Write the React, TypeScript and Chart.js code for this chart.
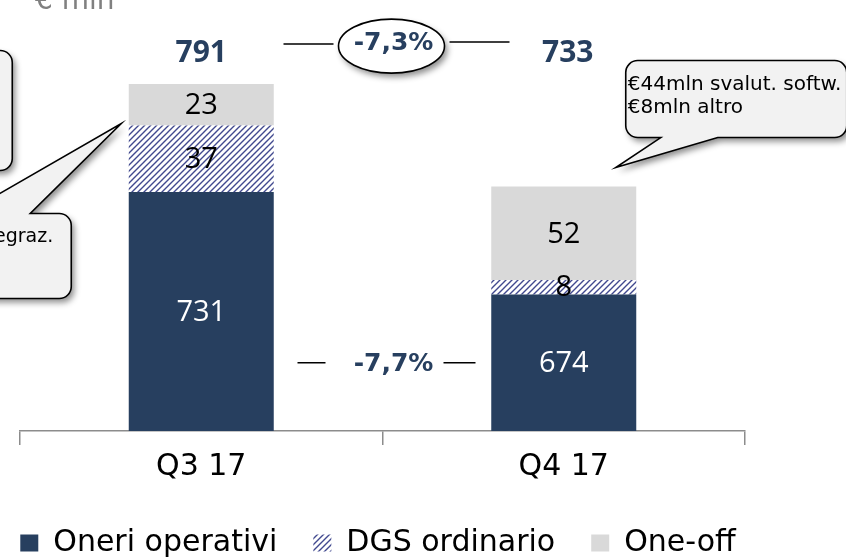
import React, { useEffect, useRef } from 'react';
import { Chart, registerables } from 'chart.js';

Chart.register(...registerables);

const categories = ['Q3 17', 'Q4 17'];
const oneriOperativi = [731, 674];
const dgsOrdinario = [37, 8];
const oneOff = [23, 52];
const totals = [791, 733];
const seriesNames = ['Oneri operativi', 'DGS ordinario', 'One-off'];
const totalChange = '-7,3%';
const opexChange = '-7,7%';
const unitLabel = '€ mln';
const calloutRight = ['€44mln svalut. softw.', '€8mln altro'];
const calloutLeft = ['€37mln oneri integraz.'];

const FONT = '"DejaVu Sans", sans-serif';
const NUMFONT = '"Open Sans", "DejaVu Sans", sans-serif';
const NAVY = '#273f5f';
const GRAY = '#d9d9d9';

function makeHatch(): CanvasPattern | string {
  const c = document.createElement('canvas');
  c.width = 6;
  c.height = 6;
  const g = c.getContext('2d');
  if (!g) return '#8088b8';
  g.fillStyle = '#ffffff';
  g.fillRect(0, 0, 6, 6);
  g.strokeStyle = '#41498f';
  g.lineWidth = 1.4;
  g.beginPath();
  g.moveTo(-1, 7); g.lineTo(7, -1);
  g.moveTo(-4, 4); g.lineTo(4, -4);
  g.moveTo(2, 10); g.lineTo(10, 2);
  g.stroke();
  const p = g.createPattern(c, 'repeat');
  return p || '#8088b8';
}

function calloutPath(ctx: CanvasRenderingContext2D, x: number, y: number, w: number, h: number, r: number,
  tail: null | { edge: 'top' | 'bottom'; b1: number; b2: number; tx: number; ty: number }) {
  ctx.beginPath();
  ctx.moveTo(x + r, y);
  if (tail && tail.edge === 'top') {
    ctx.lineTo(tail.b1, y);
    ctx.lineTo(tail.tx, tail.ty);
    ctx.lineTo(tail.b2, y);
  }
  ctx.lineTo(x + w - r, y);
  ctx.arcTo(x + w, y, x + w, y + r, r);
  ctx.lineTo(x + w, y + h - r);
  ctx.arcTo(x + w, y + h, x + w - r, y + h, r);
  if (tail && tail.edge === 'bottom') {
    ctx.lineTo(tail.b2, y + h);
    ctx.lineTo(tail.tx, tail.ty);
    ctx.lineTo(tail.b1, y + h);
  }
  ctx.lineTo(x + r, y + h);
  ctx.arcTo(x, y + h, x, y + h - r, r);
  ctx.lineTo(x, y + r);
  ctx.arcTo(x, y, x + r, y, r);
  ctx.closePath();
}

function drawShape(ctx: CanvasRenderingContext2D, fill: string) {
  ctx.save();
  ctx.shadowColor = 'rgba(0,0,0,0.45)';
  ctx.shadowBlur = 6;
  ctx.shadowOffsetX = 3;
  ctx.shadowOffsetY = 4;
  ctx.fillStyle = fill;
  ctx.fill();
  ctx.restore();
  ctx.save();
  ctx.lineWidth = 1.6;
  ctx.strokeStyle = '#000';
  ctx.stroke();
  ctx.restore();
}

const annotations = {
  id: 'annotations',
  afterDatasetsDraw(chart: any) {
    const ctx: CanvasRenderingContext2D = chart.ctx;
    const xS = chart.scales.x;
    const yS = chart.scales.y;
    const area = chart.chartArea;
    const series = [oneriOperativi, dgsOrdinario, oneOff];
    const totalsY = yS.getPixelForValue(Math.max(...totals)) - 31;

    ctx.save();
    ctx.textAlign = 'center';
    ctx.textBaseline = 'middle';
    categories.forEach((_, i) => {
      let cum = 0;
      series.forEach((s, k) => {
        const v = s[i];
        const top = yS.getPixelForValue(cum + v);
        const bot = Math.min(yS.getPixelForValue(cum), area.bottom);
        cum += v;
        ctx.font = `29px ${NUMFONT}`;
        ctx.fillStyle = k === 0 ? '#ffffff' : '#000000';
        ctx.fillText(String(v), xS.getPixelForValue(i), (top + bot) / 2 + 1);
      });
      ctx.font = `bold 30px ${NUMFONT}`;
      ctx.fillStyle = NAVY;
      ctx.fillText(String(totals[i]), xS.getPixelForValue(i) + (i === 1 ? 4 : 0), totalsY);
    });

    const x0 = xS.getPixelForValue(0);
    const x1 = xS.getPixelForValue(1);
    const mid = (x0 + x1) / 2;

    // total change ellipse
    const ey = totalsY - 7;
    ctx.save();
    ctx.beginPath();
    ctx.ellipse(mid + 9, ey, 53, 27, 0, 0, Math.PI * 2);
    drawShape(ctx, '#ffffff');
    ctx.restore();
    ctx.strokeStyle = '#000';
    ctx.lineWidth = 1.5;
    ctx.beginPath();
    ctx.moveTo(mid - 99, ey - 2); ctx.lineTo(mid - 49, ey - 2);
    ctx.moveTo(mid + 67, ey - 4); ctx.lineTo(mid + 127, ey - 4);
    ctx.stroke();
    ctx.font = `bold 25px ${FONT}`;
    ctx.fillStyle = NAVY;
    ctx.fillText(totalChange, mid + 11, ey - 3);

    // opex change
    const oy = (yS.getPixelForValue(oneriOperativi[1]) + area.bottom) / 2;
    ctx.beginPath();
    ctx.moveTo(mid - 85, oy); ctx.lineTo(mid - 57, oy);
    ctx.moveTo(mid + 61, oy); ctx.lineTo(mid + 93, oy);
    ctx.stroke();
    ctx.fillText(opexChange, mid + 11, oy + 2);
    ctx.restore();

    // right callout
    const q4Top = yS.getPixelForValue(totals[1] + 1);
    const q4Right = x1 + 73;
    const tipR = { x: q4Right - 21, y: q4Top - 19 };
    ctx.save();
    calloutPath(ctx, tipR.x + 10, tipR.y - 107, 221, 77, 12,
      { edge: 'bottom', b1: tipR.x + 45, b2: tipR.x + 102, tx: tipR.x, ty: tipR.y });
    drawShape(ctx, '#f2f2f2');
    ctx.fillStyle = '#000';
    ctx.font = `20px ${FONT}`;
    ctx.textAlign = 'left';
    ctx.textBaseline = 'middle';
    ctx.fillText(calloutRight[0], tipR.x + 12, tipR.y - 83);
    ctx.fillText(calloutRight[1], tipR.x + 12, tipR.y - 60);
    ctx.restore();

    // left callouts
    const q3Left = x0 - 73;
    const tipL = { x: q3Left - 7, y: yS.getPixelForValue(oneriOperativi[0] + dgsOrdinario[0]) - 2 };
    ctx.save();
    calloutPath(ctx, tipL.x - 330, tipL.y - 73, 221, 120, 12, null);
    drawShape(ctx, '#f2f2f2');
    calloutPath(ctx, tipL.x - 260, tipL.y + 90, 210, 85, 12,
      { edge: 'top', b1: tipL.x - 156, b2: tipL.x - 91, tx: tipL.x, ty: tipL.y });
    drawShape(ctx, '#f2f2f2');
    ctx.fillStyle = '#000';
    ctx.font = `19px ${FONT}`;
    ctx.textAlign = 'right';
    ctx.textBaseline = 'middle';
    ctx.fillText(calloutLeft[0], tipL.x - 68, tipL.y + 114);
    ctx.restore();

    // unit label
    ctx.save();
    ctx.font = `28px ${FONT}`;
    ctx.fillStyle = '#808080';
    ctx.textAlign = 'left';
    ctx.textBaseline = 'alphabetic';
    ctx.fillText(unitLabel, area.left + 15, 9);
    ctx.restore();
  },
};

export default function App() {
  const ref = useRef<HTMLCanvasElement | null>(null);
  useEffect(() => {
    if (!ref.current) return;
    const hatch = makeHatch();
    const chart = new Chart(ref.current, {
      type: 'bar',
      data: {
        labels: categories,
        datasets: [
          { label: seriesNames[0], data: oneriOperativi, backgroundColor: NAVY, clip: 0 },
          { label: seriesNames[1], data: dgsOrdinario, backgroundColor: hatch as any, clip: 0 },
          { label: seriesNames[2], data: oneOff, backgroundColor: GRAY, clip: 0 },
        ] as any,
      },
      options: {
        animation: false,
        responsive: false,
        categoryPercentage: 0.5,
        barPercentage: 0.8,
        layout: { padding: { left: -29, right: 61, top: 32, bottom: 0 } },
        plugins: {
          tooltip: { enabled: false },
          legend: {
            position: 'bottom',
            maxHeight: 65,
            labels: {
              font: { family: FONT, size: 30 },
              color: '#000',
              boxWidth: 18,
              boxHeight: 17,
              padding: 36,
            },
          },
        },
        scales: {
          x: {
            stacked: true,
            grid: { display: true, drawOnChartArea: false, tickLength: 14, color: '#8c8c8c', offset: true, lineWidth: 1.5 },
            border: { display: true, color: '#8c8c8c', width: 1.5 },
            ticks: { font: { family: FONT, size: 30 }, color: '#000', padding: 4 },
            afterFit: (s: any) => { s.height = 61; },
          },
          y: {
            stacked: true,
            position: 'left',
            min: 598,
            max: 820,
            ticks: { display: false },
            grid: { display: false },
            border: { display: false },
            afterFit: (s: any) => { s.width = 49; },
          },
          y2: {
            position: 'right',
            min: 598,
            max: 820,
            ticks: { display: false },
            grid: { display: false },
            border: { display: false },
            afterFit: (s: any) => { s.width = 40; },
          },
        },
      },
      plugins: [annotations],
    });
    return () => chart.destroy();
  }, []);
  return (
    <div style={{ position: 'absolute', left: 0, top: 0, width: 846, height: 557, background: '#fff' }}>
      <canvas ref={ref} width={846} height={557} style={{ display: 'block' }} />
    </div>
  );
}
